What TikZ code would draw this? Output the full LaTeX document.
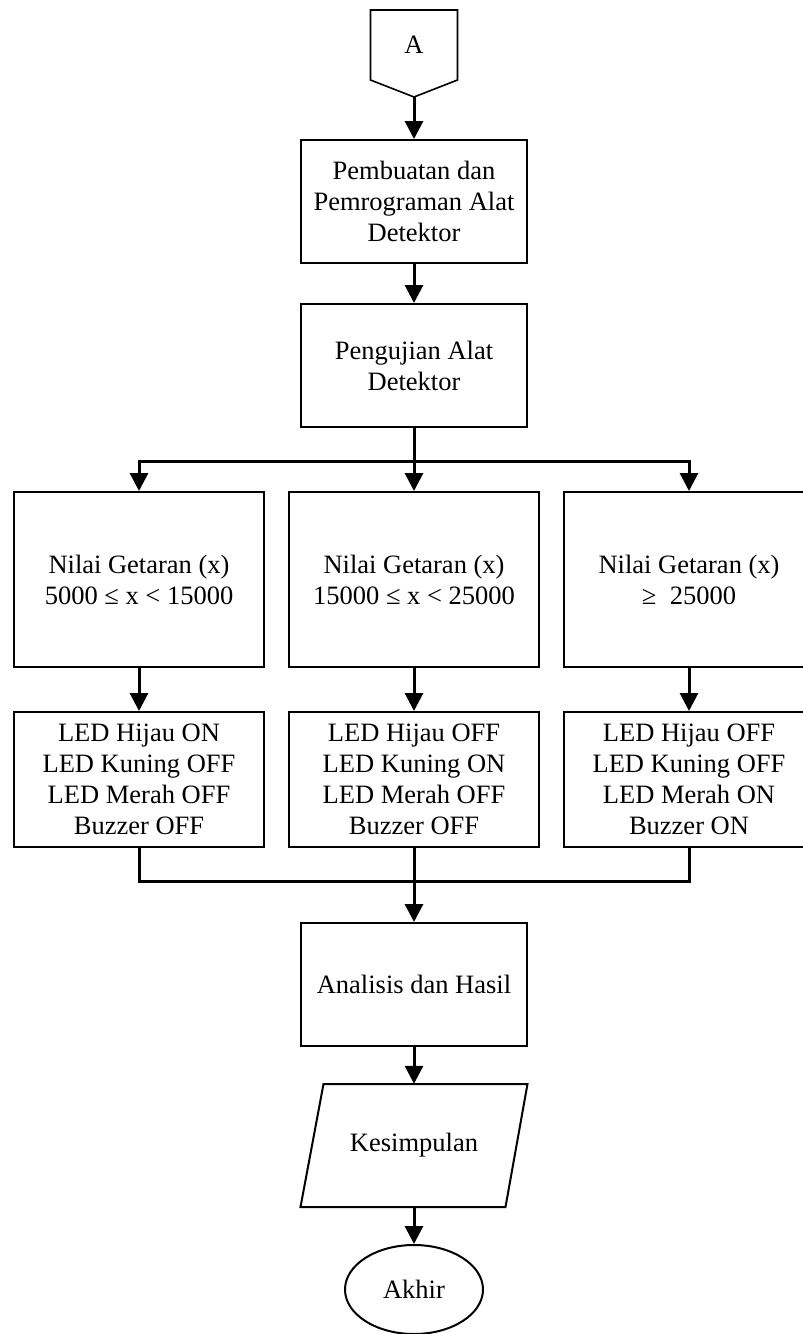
\documentclass[tikz,border=0pt]{standalone}
\usepackage{fontspec}
\setmainfont{Liberation Serif}
\usetikzlibrary{arrows.meta,shapes.geometric}
\begin{document}
\begin{tikzpicture}[x=1pt,y=-1pt,
  txt/.style={align=center, inner sep=0pt, font=\fontsize{26.5}{31}\selectfont},
  box/.style={txt, draw, line width=2pt},
  conn/.style={line width=3pt},
  arr/.style={conn, -{Triangle[width=18pt,length=18pt]}},
]
\useasboundingbox (0,0) rectangle (803,1334);
\clip (0,0) rectangle (803,1334);
\fill[white] (0,0) rectangle (803,1334);

% off-page connector
\draw[line width=1.6pt] (370.5,10) -- (457.5,10) -- (457.5,80) -- (414,97) -- (370.5,80) -- cycle;
\node[txt] (A) at (414,45) {A};
\coordinate (Atip) at (414,97);

\node[box, minimum width=226pt, minimum height=123pt] (b1) at (414,201.5) {Pembuatan dan\\Pemrograman Alat\\Detektor};
\node[box, minimum width=226pt, minimum height=123pt] (b2) at (414,365.5) {Pengujian Alat\\Detektor};

\node[box, minimum width=250pt, minimum height=175pt] (c1) at (139,579.5) {Nilai Getaran (x)\\5000 ≤ x < 15000};
\node[box, minimum width=250pt, minimum height=175pt] (c2) at (414,579.5) {Nilai Getaran (x)\\15000 ≤ x < 25000};
\node[box, minimum width=250pt, minimum height=175pt] (c3) at (689,579.5) {Nilai Getaran (x)\\≥\enspace25000};

\node[box, minimum width=250pt, minimum height=135pt] (l1) at (139,779.5) {LED Hijau ON\\LED Kuning OFF\\LED Merah OFF\\Buzzer OFF};
\node[box, minimum width=250pt, minimum height=135pt] (l2) at (414,779.5) {LED Hijau OFF\\LED Kuning ON\\LED Merah OFF\\Buzzer OFF};
\node[box, minimum width=250pt, minimum height=135pt] (l3) at (689,779.5) {LED Hijau OFF\\LED Kuning OFF\\LED Merah ON\\Buzzer ON};

\node[box, minimum width=226pt, minimum height=123pt] (ana) at (414,984.5) {Analisis dan Hasil};

\draw[line width=2pt] (323.5,1084) -- (527.5,1084) -- (505.5,1207) -- (300.5,1207) -- cycle;
\node[txt, minimum width=204pt, minimum height=123pt] (kes) at (414,1145.5) {Kesimpulan};

\node[box, ellipse, minimum width=138pt, minimum height=89pt] (end) at (414,1289.5) {Akhir};

% connectors
\draw[arr] (Atip) -- (b1.north);
\draw[arr] (b1.south) -- (b2.north);
\draw[arr] (b2.south) -- (c2.north);
\coordinate (sp) at (414,461);
\draw[arr] (sp) -| (c1.north);
\draw[arr] (sp) -| (c3.north);
\draw[arr] (c1.south) -- (l1.north);
\draw[arr] (c2.south) -- (l2.north);
\draw[arr] (c3.south) -- (l3.north);
\coordinate (mg) at (414,881);
\draw[conn] (l1.south) |- (mg);
\draw[conn] (l3.south) |- (mg);
\draw[arr] (l2.south) -- (ana.north);
\draw[arr] (ana.south) -- (kes.north);
\draw[arr] (kes.south) -- (end.north);
\end{tikzpicture}
\end{document}
